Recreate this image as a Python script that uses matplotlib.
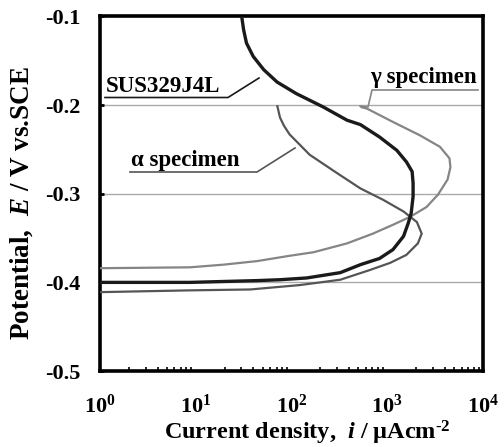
import matplotlib
matplotlib.use("Agg")
import matplotlib.pyplot as plt
import numpy as np

plt.rcParams['font.family'] = ['Liberation Serif', 'DejaVu Serif']
plt.rcParams['font.weight'] = 'bold'
plt.rcParams['mathtext.fontset'] = 'custom'
plt.rcParams['mathtext.rm'] = 'Liberation Serif:bold'
plt.rcParams['mathtext.bf'] = 'Liberation Serif:bold'
plt.rcParams['mathtext.it'] = 'Liberation Serif:italic:bold'

# polarisation curves: log10(i / uA cm-2) and E / V vs.SCE
sus_logi = [1.48, 1.50, 1.53, 1.60, 1.71, 1.85, 2.05, 2.33, 2.58, 2.72, 2.92, 3.10,
            3.20, 3.26, 3.27, 3.27, 3.25, 3.22, 3.17, 3.06, 2.92, 2.72, 2.51, 2.16,
            1.88, 1.64, 0.94, 0.0]
sus_E = [-0.100, -0.115, -0.130, -0.145, -0.160, -0.174, -0.187, -0.202, -0.217, -0.222,
         -0.236, -0.251, -0.264, -0.275, -0.288, -0.303, -0.322, -0.333, -0.348, -0.363,
         -0.373, -0.380, -0.389, -0.395, -0.397, -0.398, -0.400, -0.400]

gamma_logi = [2.72, 2.79, 3.06, 3.34, 3.55, 3.65, 3.66, 3.63, 3.53, 3.41, 3.24, 3.06,
              2.85, 2.58, 2.23, 1.98, 1.64, 1.29, 0.94, 0.0]
gamma_E = [-0.202, -0.204, -0.219, -0.234, -0.247, -0.260, -0.270, -0.284, -0.301,
           -0.315, -0.326, -0.335, -0.345, -0.356, -0.366, -0.370, -0.376, -0.380,
           -0.383, -0.384]

alpha_logi = [1.85, 1.88, 1.92, 1.98, 2.19, 2.48, 2.72, 2.96, 3.17, 3.31, 3.36, 3.32,
              3.20, 3.03, 2.82, 2.51, 2.09, 1.57, 0.94, 0.0]
alpha_E = [-0.200, -0.214, -0.223, -0.233, -0.256, -0.277, -0.294, -0.307, -0.320,
           -0.332, -0.345, -0.356, -0.369, -0.378, -0.386, -0.397, -0.403, -0.408,
           -0.409, -0.411]

y_ticks = [-0.1, -0.2, -0.3, -0.4, -0.5]
y_ticklabels = ['-0.1', '-0.2', '-0.3', '-0.4', '-0.5']
x_ticks = [1, 10, 100, 1000, 10000]
x_ticklabels = [r'$\mathbf{10^{0}}$', r'$\mathbf{10^{1}}$', r'$\mathbf{10^{2}}$',
                r'$\mathbf{10^{3}}$', r'$\mathbf{10^{4}}$']
grid_E = [-0.2, -0.3, -0.4]

fig = plt.figure(figsize=(5.04, 4.47), dpi=100)
ax = fig.add_axes([0.1984, 0.170, 0.7599, 0.7931])

for e in grid_E:
    ax.axhline(e, color='#aaaaaa', lw=1.0, zorder=1)

line_kw = dict(solid_joinstyle='round', solid_capstyle='butt', zorder=3)
ax.plot(10 ** np.array(gamma_logi), gamma_E, color='#858585', lw=1.6, **line_kw)
ax.plot(10 ** np.array(alpha_logi), alpha_E, color='#555555', lw=1.6, **line_kw)
ax.plot(10 ** np.array(sus_logi), sus_E, color='#1a1a1a', lw=2.4, **line_kw)

ax.set_xscale('log')
ax.set_xlim(1, 10000)
ax.set_ylim(-0.5, -0.1)
ax.set_xticks(x_ticks)
ax.set_xticklabels(x_ticklabels, fontsize=16)
ax.set_yticks(y_ticks)
ax.set_yticklabels(y_ticklabels, fontsize=16, fontweight='bold')
ax.tick_params(axis='x', which='major', direction='in', length=0, pad=17)
ax.tick_params(axis='x', which='minor', direction='in', length=3, width=1.2)
ax.tick_params(axis='y', which='major', direction='in', length=3, width=2, pad=14)

for sp in ax.spines.values():
    sp.set_linewidth(2.6)

ax.set_xlabel('Current density,  $i$ / \u03bcAcm$^{\\text{-2}}$', fontsize=17.5,
              fontweight='bold', va='bottom')
ax.xaxis.set_label_coords(0.541, -0.213)
ax.set_ylabel('Potential,  $E$ / V vs.SCE', fontsize=19.5, fontweight='bold', va='center')
ax.yaxis.set_label_coords(-0.204, 0.474)


# labels with leader lines, positions in figure pixels
def px(x, y):
    return x / 504, 1 - y / 447


def leader(pts, color, lw=1.2):
    xs = [p[0] / 504 for p in pts]
    ys = [1 - p[1] / 447 for p in pts]
    fig.add_artist(plt.Line2D(xs, ys, color=color, lw=lw, transform=fig.transFigure))


fig.text(*px(106, 86), 'SUS329J4L', fontsize=16.5, fontweight='bold', va='center', ha='left')
leader([(105, 97.5), (228, 97.5), (259, 78)], '#1a1a1a')

fig.text(*px(131, 160), '\u03b1 specimen', fontsize=16.5, fontweight='bold', va='center', ha='left')
leader([(130, 172), (257, 172), (295, 148)], '#555555')

fig.text(*px(370, 78), '\u03b3 specimen', fontsize=16.5, fontweight='bold', va='center', ha='left')
leader([(478, 90), (372, 90), (368, 107), (360, 106)], '#858585')

fig.savefig('out.png', dpi=100)
